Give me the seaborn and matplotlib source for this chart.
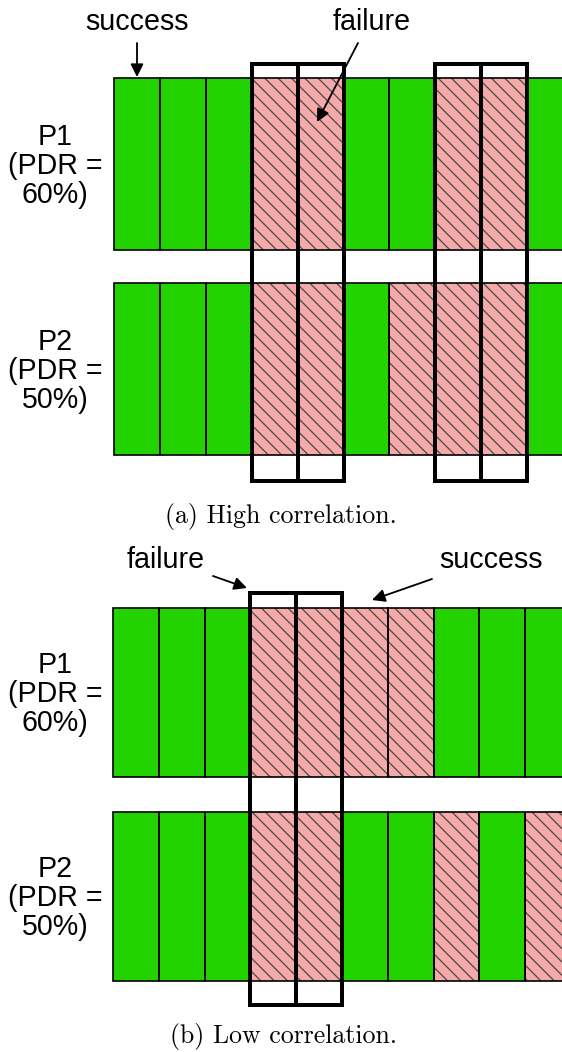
import matplotlib
matplotlib.use("Agg")
import matplotlib.pyplot as plt
import seaborn as sns
import numpy as np

# outcome of each transmission slot, S = success, F = failure
high_p1 = ['S', 'S', 'S', 'F', 'F', 'S', 'S', 'F', 'F', 'S']
high_p2 = ['S', 'S', 'S', 'F', 'F', 'S', 'F', 'F', 'F', 'S']
low_p1 = ['S', 'S', 'S', 'F', 'F', 'F', 'F', 'S', 'S', 'S']
low_p2 = ['S', 'S', 'S', 'F', 'F', 'S', 'S', 'F', 'S', 'F']

# slots where both paths are looked at together
high_boxes = [3, 4, 7, 8]
low_boxes = [3, 4]

row_labels = ['P1\n(PDR =\n60%)', 'P2\n(PDR =\n50%)']
captions = ['(a) High correlation.', '(b) Low correlation.']

sns.set_theme(style='white')
plt.rcParams['font.family'] = ['Liberation Sans', 'DejaVu Sans']
plt.rcParams['text.color'] = 'black'
plt.rcParams['hatch.linewidth'] = 0.75

GREEN = '#22d300'
PINK = '#f6a9a9'
HATCH_COL = '#4a4a4a'

W, H, DPI = 562, 1052, 120
fig = plt.figure(figsize=(W / DPI, H / DPI), dpi=DPI)

# panel layout in pixels: slot origin, slot width, row tops/bottoms, box top/bottom
panels = [
    dict(rows=[high_p1, high_p2], boxes=high_boxes, x0=114.5, w=45.8,
         tops=[78, 283], bots=[250, 455], box=(64, 481), lab_y=[166, 371],
         cap=(281, 516), label='a'),
    dict(rows=[low_p1, low_p2], boxes=low_boxes, x0=113, w=45.8,
         tops=[608, 812], bots=[777, 981], box=(593, 1005), lab_y=[694, 898],
         cap=(284, 1036), label='b'),
]

for p in panels:
    ax = fig.add_axes([0, 0, 1, 1], label=p['label'])
    ax.set_xlim(-p['x0'] / p['w'], (W - p['x0']) / p['w'])
    ax.set_ylim(H, 0)
    ax.axis('off')
    for outcomes, top, bot in zip(p['rows'], p['tops'], p['bots']):
        slots = np.arange(len(outcomes))
        ok = np.array([o == 'S' for o in outcomes])
        ax.bar(slots[ok], bot - top, bottom=top, width=1, align='edge',
               color=GREEN, linewidth=0, zorder=1)
        ax.bar(slots[~ok], bot - top, bottom=top, width=1, align='edge',
               color=PINK, edgecolor=HATCH_COL, hatch='\\\\\\', linewidth=0, zorder=1)
        ax.bar(slots, bot - top, bottom=top, width=1, align='edge',
               fill=False, edgecolor='black', linewidth=1.0, zorder=2)
    btop, bbot = p['box']
    ax.bar(p['boxes'], bbot - btop, bottom=btop, width=1, align='edge',
           fill=False, edgecolor='black', linewidth=2.4, zorder=3)

# overlay in pixel coordinates for text and arrows
ov = fig.add_axes([0, 0, 1, 1], label='overlay')
ov.set_xlim(0, W)
ov.set_ylim(H, 0)
ov.axis('off')

for p, cap in zip(panels, captions):
    for lab, y in zip(row_labels, p['lab_y']):
        ov.text(55, y, lab, ha='center', va='center', fontsize=17.2,
                linespacing=1.05)
    ov.text(p['cap'][0], p['cap'][1], cap, ha='center', va='center',
            fontsize=15.5, family='cmr10')

arrow = dict(arrowstyle='-|>', color='black', lw=1.1, mutation_scale=16,
             shrinkA=0, shrinkB=0)
notes = [
    ('success', (137, 30), (137, 43), (137, 77)),
    ('failure', (372, 30), (358, 43), (317, 122)),
    ('failure', (166, 568), (213, 576), (247, 588)),
    ('success', (491, 568), (432, 579), (372, 600)),
]
for txt, pos, start, tip in notes:
    ov.text(pos[0], pos[1], txt, ha='center', va='baseline', fontsize=17.2)
    ov.annotate('', xy=tip, xytext=start, arrowprops=arrow)

fig.savefig('out.png', dpi=DPI)
